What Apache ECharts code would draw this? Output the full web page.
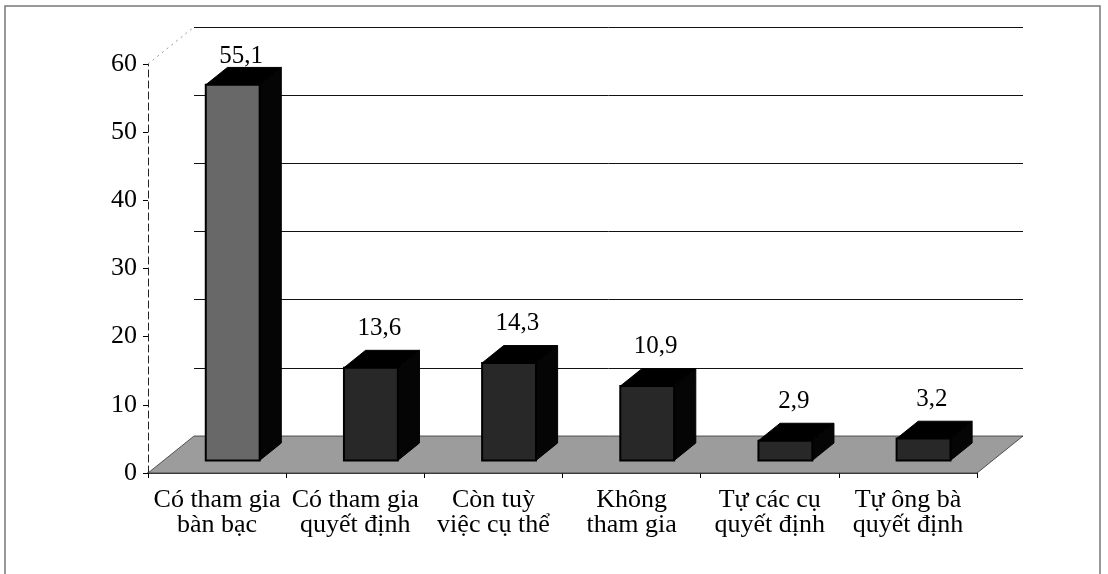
<!DOCTYPE html>
<html><head><meta charset="utf-8">
<script src="https://cdn.jsdelivr.net/npm/echarts@6/dist/echarts.min.js"></script>
<style>html,body{margin:0;padding:0;background:#fff}#c{width:1108px;height:574px}</style>
</head><body><div id="c"></div>
<script>
// ---- data ----
const categories = ['Có tham gia\nbàn bạc', 'Có tham gia\nquyết định', 'Còn tuỳ\nviệc cụ thể', 'Không\ntham gia', 'Tự các cụ\nquyết định', 'Tự ông bà\nquyết định'];
const values = [55.1, 13.6, 14.3, 10.9, 2.9, 3.2];
const valueLabels = ['55,1', '13,6', '14,3', '10,9', '2,9', '3,2'];
const yMin = 0, yMax = 60, yInterval = 10;

// ---- style / layout ----
const FONT = "'Liberation Serif', 'Times New Roman', serif";
const G = { left: 148, top: 64, width: 829, height: 409 };
const DX = 46, DY = -37;           // depth of floor / back wall
const FRONT = 0.34, BACK = 0.81;   // bar position inside the depth
const BAR_W = 0.39;                // front face width as fraction of band

const chart = echarts.init(document.getElementById('c'), null, { renderer: 'canvas' });

function floorItem(params, api) {
  const band = api.size([1, 0])[0];
  const n = categories.length;
  const p0 = api.coord([0, yMin]);
  const pN = api.coord([n - 1, yMin]);
  const pTop = api.coord([0, yMax]);
  const l = p0[0] - band / 2, r = pN[0] + band / 2, y = p0[1];
  return {
    type: 'group',
    children: [
      { type: 'polygon', shape: { points: [[l, y], [r, y], [r + DX, y + DY], [l + DX, y + DY]] },
        style: { fill: '#9c9c9c', stroke: '#333', lineWidth: 0.8 } },
      { type: 'line', shape: { x1: l, y1: pTop[1], x2: l + DX, y2: pTop[1] + DY },
        style: { stroke: '#999', lineWidth: 1, lineDash: [2, 4] } }
    ]
  };
}

function barItem(params, api) {
  const i = api.value(0), v = api.value(1);
  const top = api.coord([i, v]);
  const base = api.coord([i, yMin]);
  const band = api.size([1, 0])[0];
  const fw = band * BAR_W;
  const fdx = DX * FRONT, fdy = DY * FRONT;
  const ddx = DX * (BACK - FRONT), ddy = DY * (BACK - FRONT);
  const x0 = top[0] + fdx - fw / 2, x1 = x0 + fw;
  const yT = top[1] + fdy, yB = base[1] + fdy;
  const frontFill = params.dataIndex === 0 ? '#686868' : '#282828';
  const plotTop = api.coord([0, yMax])[1];
  const ly = Math.max(top[1] - 52, plotTop - 8);
  return {
    type: 'group',
    children: [
      { type: 'polygon', shape: { points: [[x1, yB], [x1, yT], [x1 + ddx, yT + ddy], [x1 + ddx, yB + ddy]] },
        style: { fill: '#050505', stroke: '#000', lineWidth: 1 } },
      { type: 'polygon', shape: { points: [[x0, yT], [x1, yT], [x1 + ddx, yT + ddy], [x0 + ddx, yT + ddy]] },
        style: { fill: '#000', stroke: '#000', lineWidth: 1 } },
      { type: 'rect', shape: { x: x0, y: yT, width: fw, height: yB - yT },
        style: { fill: frontFill, stroke: '#000', lineWidth: 2 } },
      { type: 'text', x: top[0] + 24, y: ly,
        style: { text: valueLabels[params.dataIndex], font: '25px ' + FONT, fill: '#000', align: 'center', verticalAlign: 'middle' } }
    ]
  };
}

const option = {
  backgroundColor: '#fff',
  animation: false,
  grid: [
    { left: G.left, top: G.top, width: G.width, height: G.height, containLabel: false },
    { left: G.left + DX, top: G.top + DY, width: G.width, height: G.height, containLabel: false }
  ],
  xAxis: [
    { type: 'category', gridIndex: 0, data: categories, boundaryGap: true,
      axisLine: { show: true, lineStyle: { color: '#000', width: 1.5 } },
      axisTick: { show: true, length: 5, lineStyle: { color: '#000' } },
      axisLabel: { interval: 0, color: '#000', fontFamily: FONT, fontSize: 26, lineHeight: 25, margin: 15 },
      splitLine: { show: false } },
    { type: 'category', gridIndex: 1, data: categories, show: false }
  ],
  yAxis: [
    { type: 'value', gridIndex: 0, min: yMin, max: yMax, interval: yInterval,
      axisLine: { show: true, lineStyle: { color: '#222', width: 1, type: [7, 4] } },
      axisTick: { show: true, length: 5, lineStyle: { color: '#000' } },
      axisLabel: { color: '#000', fontFamily: FONT, fontSize: 26, margin: 11 },
      splitLine: { show: false } },
    { type: 'value', gridIndex: 1, min: yMin, max: yMax, interval: yInterval,
      axisLine: { show: false }, axisTick: { show: false }, axisLabel: { show: false },
      splitLine: { show: true, lineStyle: { color: '#111', width: 1 } } }
  ],
  series: [
    { type: 'custom', name: 'floor', xAxisIndex: 0, yAxisIndex: 0, z: 1, clip: false,
      renderItem: floorItem, data: [[0, 0]], silent: true },
    { type: 'custom', name: 'bars', xAxisIndex: 0, yAxisIndex: 0, z: 3, clip: false,
      renderItem: barItem, data: values.map((v, i) => [i, v]) }
  ],
  graphic: [
    { type: 'rect', z: 0, shape: { x: 5, y: 6, width: 1095, height: 600 },
      style: { fill: 'none', stroke: '#777', lineWidth: 1.5 } }
  ]
};
chart.setOption(option);
</script>
</body></html>
